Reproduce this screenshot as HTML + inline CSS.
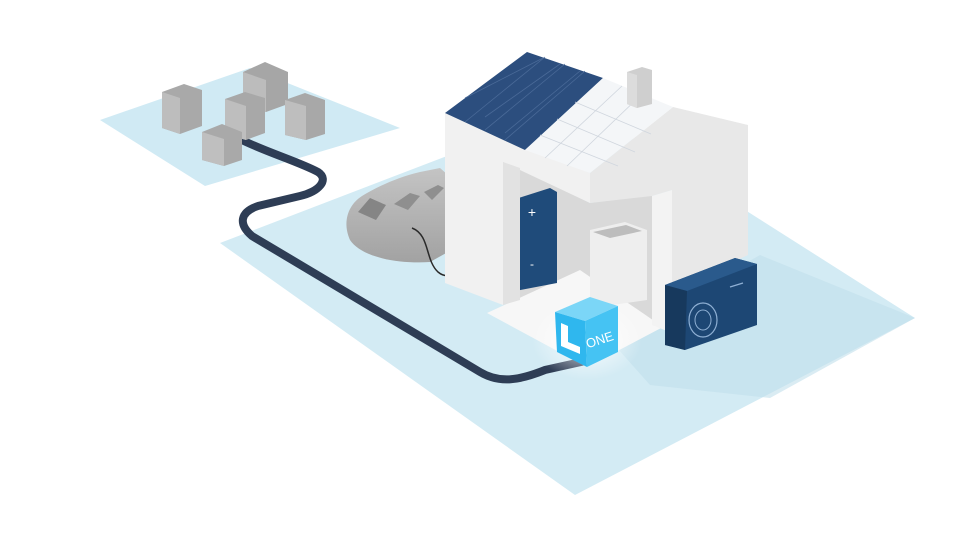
<!DOCTYPE html>
<html><head><meta charset="utf-8"><style>
html,body{margin:0;padding:0;background:#fff;}
svg{display:block;}
</style></head><body>
<svg width="960" height="540" viewBox="0 0 960 540" xmlns="http://www.w3.org/2000/svg">
<defs>
<radialGradient id="glow" cx="0.5" cy="0.5" r="0.5"><stop offset="0" stop-color="#ffffff" stop-opacity="0.9"/><stop offset="1" stop-color="#ffffff" stop-opacity="0"/></radialGradient>
<linearGradient id="car" x1="0" y1="0" x2="0" y2="1"><stop offset="0" stop-color="#c4c4c4"/><stop offset="1" stop-color="#a2a2a2"/></linearGradient>
</defs>
<!-- planes -->
<polygon points="100,120 250,68 400,128 205,186" fill="#d0eaf4"/>
<polygon points="220,243 580,105 915,318 575,495" fill="#d3ebf4"/>
<polygon points="610,340 760,255 915,318 770,398 650,385" fill="#c2e0eb" opacity="0.6"/>
<!-- cable -->
<path d="M238,138 C260,150 300,162 318,172 C330,180 318,192 300,196 L258,206 C240,212 238,224 252,236 L480,372 C500,384 520,380 545,370 L590,360" fill="none" stroke="#2e3d55" stroke-width="8" stroke-linecap="round"/>
<!-- small houses -->
<g>
<polygon points="162,92 184,84 202,90 202,126 180,134 162,128" fill="#a9a9a9"/><polygon points="162,92 180,98 180,134 162,128" fill="#bdbdbd"/>
<polygon points="243,72 265,62 288,72 288,104 266,112 243,106" fill="#a6a6a6"/><polygon points="243,72 266,80 266,112 243,106" fill="#bcbcbc"/>
<polygon points="225,99 245,92 265,98 265,133 246,140 225,134" fill="#a8a8a8"/><polygon points="225,99 246,106 246,140 225,134" fill="#bebebe"/>
<polygon points="285,100 305,93 325,100 325,134 306,140 285,135" fill="#a8a8a8"/><polygon points="285,100 306,106 306,140 285,135" fill="#bebebe"/>
<polygon points="202,132 222,124 242,132 242,160 224,166 202,160" fill="#a9a9a9"/><polygon points="202,132 224,139 224,166 202,160" fill="#bfbfbf"/>
</g>
<!-- car -->
<path d="M350,240 C342,222 348,205 362,196 C375,188 395,178 420,172 L440,168 L448,175 L448,252 L430,262 C400,264 362,258 350,240 Z" fill="url(#car)"/>
<path d="M358,212 L370,198 L386,205 L376,220 Z" fill="#858585"/>
<path d="M394,204 L410,193 L420,196 L408,210 Z" fill="#8f8f8f"/>
<path d="M424,192 L438,185 L444,188 L432,200 Z" fill="#8f8f8f"/>
<!-- charger -->
<polygon points="447,203 465,196 472,202 472,248 455,255 447,250" fill="#d6d6d6"/>
<polygon points="455,208 472,202 472,248 455,255" fill="#c4c4c4"/>
<path d="M412,228 C430,235 425,260 438,272 C450,282 462,270 462,252" fill="none" stroke="#2a2a2a" stroke-width="1.5"/>
<!-- house interior -->
<polygon points="503,160 590,203 652,195 652,325 560,300 503,300" fill="#d9d9d9"/>
<polygon points="487,313 580,270 663,327 587,367" fill="#f7f7f7"/>
<!-- battery -->
<polygon points="503,203 550,188 557,192 557,283 510,292 503,290" fill="#1f4b7a"/>
<polygon points="503,203 510,205 510,292 503,290" fill="#173c62"/>
<text x="532" y="217" font-family="Liberation Sans, sans-serif" font-size="14" fill="#fff" text-anchor="middle">+</text>
<text x="532" y="268" font-family="Liberation Sans, sans-serif" font-size="12" fill="#fff" text-anchor="middle">-</text>
<!-- kitchen unit -->
<polygon points="590,230 625,222 647,230 647,300 612,305 590,298" fill="#eeeeee"/>
<polygon points="593,232 626,225 642,231 610,238" fill="#bdbdbd"/>
<!-- left pillar & front -->
<polygon points="445,113 590,173 590,203 503,162 503,305 445,283" fill="#f1f1f1"/>
<polygon points="503,162 520,168 520,300 503,305" fill="#e2e2e2"/>
<!-- right wall -->
<polygon points="590,173 673,107 748,125 748,255 672,290 672,190 652,196 590,203" fill="#e8e8e8"/>
<polygon points="652,196 672,190 672,333 652,325" fill="#f3f3f3"/>
<!-- roof -->
<polygon points="445,113 527,52 603,78 525,150" fill="#2c4e7e"/>
<polygon points="525,150 603,78 673,107 590,173" fill="#f4f6f8"/>
<g stroke="#4a6a98" stroke-width="0.8">
<line x1="465" y1="98" x2="543" y2="58"/><line x1="485" y1="117" x2="560" y2="64"/><line x1="505" y1="133" x2="580" y2="71"/>
<line x1="465" y1="122" x2="545" y2="57"/><line x1="485" y1="130" x2="565" y2="64"/><line x1="505" y1="140" x2="585" y2="71"/>
</g>
<g stroke="#d0d6de" stroke-width="0.8">
<line x1="545" y1="158" x2="622" y2="86"/><line x1="567" y1="166" x2="642" y2="94"/>
<line x1="540" y1="135" x2="618" y2="166"/><line x1="557" y1="119" x2="635" y2="152"/><line x1="575" y1="102" x2="651" y2="134"/>
</g>
<!-- chimney -->
<polygon points="627,72 642,67 652,70 652,104 637,108 627,104" fill="#cfcfcf"/>
<polygon points="627,72 637,75 637,108 627,104" fill="#dcdcdc"/>
<!-- AC unit -->
<polygon points="665,285 735,258 757,264 757,325 685,350 665,345" fill="#1d4774"/>
<polygon points="665,285 735,258 757,264 687,291" fill="#2a5a8c"/>
<polygon points="665,285 687,291 685,350 665,345" fill="#17395d"/>
<ellipse cx="703" cy="320" rx="14" ry="17" fill="none" stroke="#8fb0d4" stroke-width="1.2"/>
<ellipse cx="703" cy="320" rx="8" ry="10" fill="none" stroke="#8fb0d4" stroke-width="1"/>
<line x1="730" y1="287" x2="743" y2="283" stroke="#8fb0d4" stroke-width="1.2"/>
<!-- ONE cube -->
<ellipse cx="587" cy="340" rx="55" ry="40" fill="url(#glow)"/>
<polygon points="555,312 590,297 618,306 585,321" fill="#7bd6f7"/>
<polygon points="555,312 585,321 587,367 557,352" fill="#2fb7ee"/>
<polygon points="585,321 618,306 618,352 587,367" fill="#45c3f3"/>
<path d="M561,323 L568,326 L568,342 L580,347 L580,354 L561,346 Z" fill="#fff"/>
<text x="601" y="344" font-family="Liberation Sans, sans-serif" font-size="13" fill="#fff" text-anchor="middle" transform="rotate(-18 601 344)">ONE</text>
</svg>
</body></html>
